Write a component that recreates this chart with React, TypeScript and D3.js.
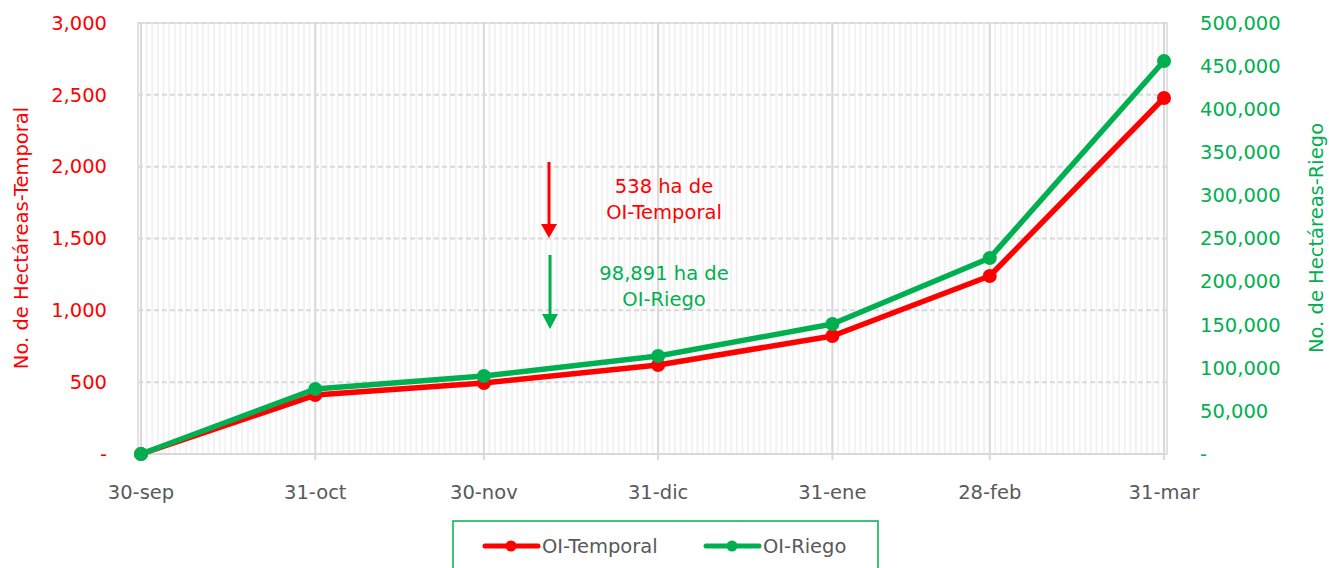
import React from 'react';
import * as d3 from 'd3';

// fechas de corte y superficies acumuladas
const fechas = ['2022-09-30', '2022-10-31', '2022-11-30', '2022-12-31', '2023-01-31', '2023-02-28', '2023-03-31'];
const etiquetas = ['30-sep', '31-oct', '30-nov', '31-dic', '31-ene', '28-feb', '31-mar'];
const temporal = [0, 410, 494, 620, 821, 1239, 2478];
const riego = [0, 75400, 90500, 113700, 150800, 227400, 455900];
const ticksIzq = [0, 500, 1000, 1500, 2000, 2500, 3000];
const ticksDer = [0, 50000, 100000, 150000, 200000, 250000, 300000, 350000, 400000, 450000, 500000];

const ROJO = '#ff0000';
const VERDE = '#00b050';
const FONT = "'DejaVu Sans', 'Open Sans', sans-serif";
const FS = 19.5;

const W = 1329, H = 568;
const plot = { left: 138, right: 1167, top: 23, bottom: 454 };

const parse = d3.timeParse('%Y-%m-%d');

const App = () => {
    const dates = fechas.map(f => parse(f) as Date);

    const xScale = d3.scaleTime()
        .domain([dates[0], dates[dates.length - 1]])
        .range([141, 1164]);

    const yLeft = d3.scaleLinear().domain([0, 3000]).range([plot.bottom, plot.top]);
    const yRight = d3.scaleLinear().domain([0, 500000]).range([plot.bottom, plot.top]);

    const fmt = (v: number) => (v === 0 ? '-' : d3.format(',')(v));

    // lineas diarias del fondo
    const dias = d3.timeDay.range(d3.timeDay.offset(dates[0], -1), d3.timeDay.offset(dates[dates.length - 1], 2))
        .map(d => xScale(d))
        .filter(x => x >= plot.left && x <= plot.right);

    const lineTemp = d3.line<number>()
        .x((d, i) => xScale(dates[i]))
        .y(d => yLeft(d));
    const lineRiego = d3.line<number>()
        .x((d, i) => xScale(dates[i]))
        .y(d => yRight(d));

    return (
        <div style={{ position: 'absolute', left: 0, top: 0 }}>
            <svg width={W} height={H} style={{ display: 'block', background: '#fff' }} fontFamily={FONT}>

                {/* rejilla */}
                <g>
                    {dias.map((x, i) => (
                        <line key={'d' + i} x1={x} x2={x} y1={plot.top} y2={plot.bottom} stroke="#f2f2f2" strokeWidth={2} />
                    ))}
                    {ticksIzq.slice(1).map(t => (
                        <line key={'h' + t} x1={plot.left} x2={plot.right} y1={yLeft(t)} y2={yLeft(t)} stroke="#d9d9d9" strokeWidth={2} strokeDasharray="5,3" />
                    ))}
                    {dates.map((d, i) => (
                        <line key={'m' + i} x1={xScale(d)} x2={xScale(d)} y1={plot.top} y2={plot.bottom + 6} stroke="#d9d9d9" strokeWidth={2} />
                    ))}
                    <rect x={plot.left} y={plot.top} width={plot.right - plot.left} height={plot.bottom - plot.top} fill="none" stroke="#d9d9d9" strokeWidth={1.5} />
                    <line x1={plot.left} x2={plot.right} y1={plot.bottom} y2={plot.bottom} stroke="#d9d9d9" strokeWidth={2} />
                </g>

                {/* ejes */}
                <g fontSize={FS} fill={ROJO} textAnchor="end">
                    {ticksIzq.map(t => (
                        <text key={t} x={107} y={yLeft(t)} dy="0.35em">{fmt(t)}</text>
                    ))}
                </g>
                <g fontSize={FS} fill={VERDE} textAnchor="start">
                    {ticksDer.map(t => (
                        <text key={t} x={1200} y={yRight(t)} dy="0.35em">{fmt(t)}</text>
                    ))}
                </g>
                <g fontSize={FS} fill="#595959" textAnchor="middle">
                    {dates.map((d, i) => (
                        <text key={i} x={xScale(d)} y={499}>{etiquetas[i]}</text>
                    ))}
                </g>
                <text transform="translate(28,238)rotate(-90)" textAnchor="middle" fontSize={FS} fill={ROJO}>No. de Hectáreas-Temporal</text>
                <text transform="translate(1323,238)rotate(-90)" textAnchor="middle" fontSize={FS} fill={VERDE}>No. de Hectáreas-Riego</text>

                {/* series */}
                <path d={lineTemp(temporal) || ''} fill="none" stroke={ROJO} strokeWidth={5.5} strokeLinejoin="round" />
                {temporal.map((v, i) => (
                    <circle key={'t' + i} cx={xScale(dates[i])} cy={yLeft(v)} r={7} fill={ROJO} />
                ))}
                <path d={lineRiego(riego) || ''} fill="none" stroke={VERDE} strokeWidth={5.5} strokeLinejoin="round" />
                {riego.map((v, i) => (
                    <circle key={'r' + i} cx={xScale(dates[i])} cy={yRight(v)} r={7} fill={VERDE} />
                ))}

                {/* anotaciones */}
                <line x1={549} x2={549} y1={162} y2={226} stroke={ROJO} strokeWidth={3} />
                <path d="M541,224 L557,224 L549,238 Z" fill={ROJO} />
                <text x={664} y={193} textAnchor="middle" fontSize={FS} fill={ROJO}>538 ha de</text>
                <text x={664} y={219} textAnchor="middle" fontSize={FS} fill={ROJO}>OI-Temporal</text>

                <line x1={550} x2={550} y1={255} y2={316} stroke={VERDE} strokeWidth={3} />
                <path d="M542,314 L558,314 L550,329 Z" fill={VERDE} />
                <text x={664} y={280} textAnchor="middle" fontSize={FS} fill={VERDE}>98,891 ha de</text>
                <text x={664} y={306} textAnchor="middle" fontSize={FS} fill={VERDE}>OI-Riego</text>

                {/* leyenda */}
                <rect x={453} y={521} width={425} height={60} fill="#fff" stroke={VERDE} strokeWidth={1.5} />
                <line x1={485} x2={538} y1={546} y2={546} stroke={ROJO} strokeWidth={5} strokeLinecap="round" />
                <circle cx={511} cy={546} r={5.5} fill={ROJO} />
                <text x={542} y={546} dy="0.35em" fontSize={FS} fill="#595959">OI-Temporal</text>
                <line x1={706} x2={759} y1={546} y2={546} stroke={VERDE} strokeWidth={5} strokeLinecap="round" />
                <circle cx={732} cy={546} r={5.5} fill={VERDE} />
                <text x={763} y={546} dy="0.35em" fontSize={FS} fill="#595959">OI-Riego</text>
            </svg>
        </div>
    );
};

export default App;
